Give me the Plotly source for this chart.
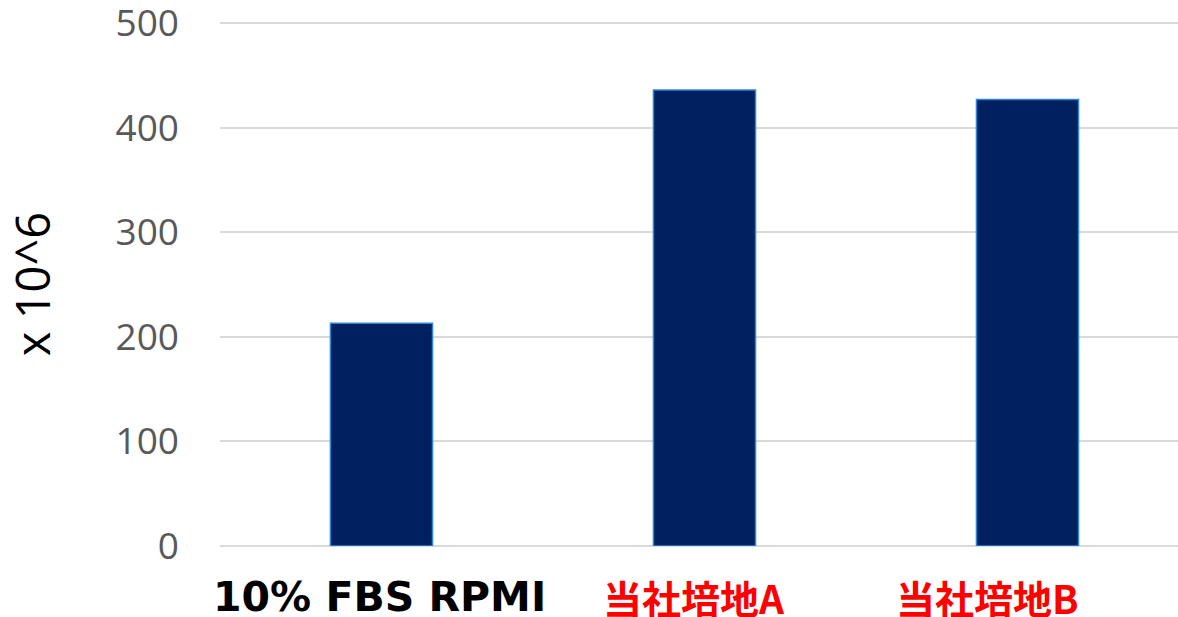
import plotly.graph_objects as go

categories = ["10% FBS RPMI", "当社培地A", "当社培地B"]
values = [213, 436, 427]
label_colors = ["#000000", "#FF0000", "#FF0000"]
label_fonts = ["DejaVu Sans", "Noto Sans CJK JP", "Noto Sans CJK JP"]
label_sizes = [41, 39, 39]
label_xshift = [-2, -10, -40]
y_ticks = [0, 100, 200, 300, 400, 500]
y_title = "x 10^6"

fig = go.Figure()
fig.add_trace(go.Bar(
    x=categories, y=values,
    marker=dict(color="#002060", line=dict(color="#2E86D6", width=1.5)),
    width=0.316,
))

for cat, col, fam, sz, xs in zip(categories, label_colors, label_fonts, label_sizes, label_xshift):
    fig.add_annotation(
        x=cat, y=0, xref="x", yref="y", text=f"<b>{cat}</b>",
        showarrow=False, yanchor="middle", xanchor="center",
        yshift=-51, xshift=xs,
        font=dict(family=fam, size=sz, color=col),
    )

fig.update_layout(
    width=1178, height=617,
    margin=dict(l=220, r=0, t=22, b=71, autoexpand=False),
    paper_bgcolor="white", plot_bgcolor="white",
    showlegend=False,
    xaxis=dict(range=[-0.5, 2.466], showticklabels=False, showgrid=False,
               zeroline=False, showline=False, fixedrange=True, automargin=False),
    yaxis=dict(range=[0, 501], tickvals=y_ticks, showgrid=True, automargin=False,
               gridcolor="#D9D9D9", gridwidth=1.5, zeroline=True,
               zerolinecolor="#D9D9D9", zerolinewidth=1.5, showline=False,
               ticks="", ticklabelstandoff=40, ticklabeloverflow="allow",
               tickfont=dict(family="Open Sans", size=37, color="#595959"),
               title=dict(text=y_title, standoff=60,
                          font=dict(family="Open Sans", size=47, color="#000000"))),
)

fig.write_html("out.html", config={"displayModeBar": False},
               post_script="document.body.style.margin='0';")
